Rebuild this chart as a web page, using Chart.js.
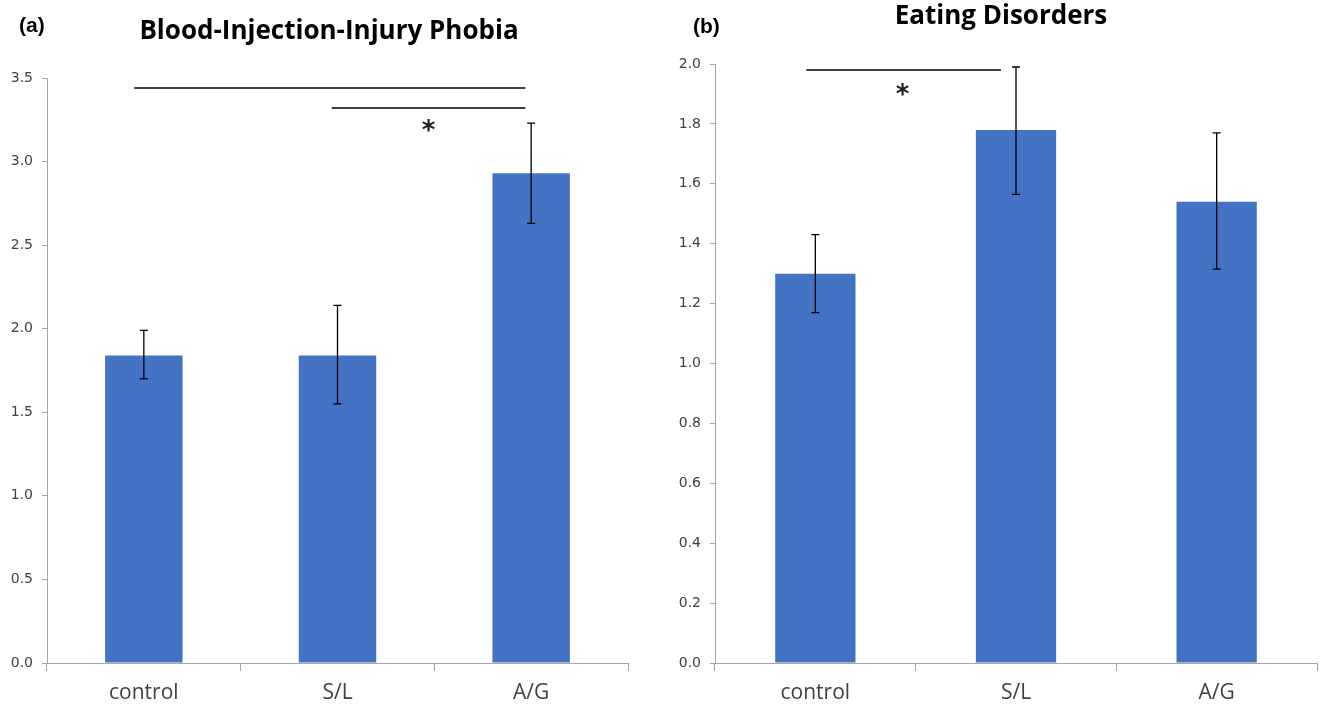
<!DOCTYPE html>
<html>
<head>
<meta charset="utf-8">
<script src="https://cdn.jsdelivr.net/npm/chart.js@4.4.1/dist/chart.umd.min.js"></script>
<style>
  html, body { margin: 0; padding: 0; background: #fff; }
  body { width: 1323px; height: 706px; position: relative; overflow: hidden; }
  .panel { position: absolute; top: 0; height: 706px; }
  .title { position: absolute; font-family: "Open Sans", Lato, sans-serif; font-weight: bold; color: #000; white-space: nowrap; transform: translateX(-50%); font-size: 26px; line-height: 26px; }
  .tag { position: absolute; font-family: "Liberation Sans", Arial, sans-serif; font-weight: bold; color: #000; font-size: 21px; line-height: 21px; }
</style>
</head>
<body>
<div class="panel" style="left:0;width:660px;"><canvas id="c1" width="660" height="706"></canvas></div>
<div class="panel" style="left:660px;width:663px;"><canvas id="c2" width="663" height="706"></canvas></div>
<div class="tag" style="left:19px;top:14px;">(a)</div>
<div class="tag" style="left:693px;top:15px;">(b)</div>
<div class="title" style="left:329px;top:16px;">Blood-Injection-Injury Phobia</div>
<div class="title" style="left:1001px;top:1px;">Eating Disorders</div>
<script>
// ---- data ----
const categories = ['control', 'S/L', 'A/G'];

const bipMeans    = [1.84, 1.84, 2.93];
const bipErrLow   = [1.70, 1.55, 2.63];
const bipErrHigh  = [1.99, 2.14, 3.23];
const bipTicks    = ['0.0', '0.5', '1.0', '1.5', '2.0', '2.5', '3.0', '3.5'];
// significance brackets: [fromCategory, toCategory, value]
const bipBrackets = [[-0.05, 1.97, 3.44], [0.97, 1.97, 3.32]];
const bipStars    = [[1.47, 3.22]];

const edMeans     = [1.30, 1.78, 1.54];
const edErrLow    = [1.17, 1.565, 1.315];
const edErrHigh   = [1.43, 1.99, 1.77];
const edTicks     = ['0.0', '0.2', '0.4', '0.6', '0.8', '1.0', '1.2', '1.4', '1.6', '1.8', '2.0'];
const edBrackets  = [[-0.045, 0.925, 1.98]];
const edStars     = [[0.435, 1.915]];

const BAR = '#4472C4';
const AXIS = '#a6a6a6';
const TEXT = '#404040';

function catPx(xs, v) {
  const p0 = xs.getPixelForValue(0), p1 = xs.getPixelForValue(1);
  return p0 + v * (p1 - p0);
}

const extrasPlugin = {
  id: 'extras',
  afterDatasetsDraw(chart, args, opts) {
    const ctx = chart.ctx, xs = chart.scales.x, ys = chart.scales.y;
    ctx.save();
    ctx.strokeStyle = '#000';
    ctx.lineWidth = 1.3;
    // error bars
    opts.low.forEach((lo, i) => {
      const x = xs.getPixelForValue(i);
      const yl = ys.getPixelForValue(lo), yh = ys.getPixelForValue(opts.high[i]);
      ctx.beginPath();
      ctx.moveTo(x, yl); ctx.lineTo(x, yh);
      ctx.moveTo(x - 4, yl); ctx.lineTo(x + 4, yl);
      ctx.moveTo(x - 4, yh); ctx.lineTo(x + 4, yh);
      ctx.stroke();
    });
    // brackets
    ctx.lineWidth = 1.5;
    opts.brackets.forEach(b => {
      const y = ys.getPixelForValue(b[2]);
      ctx.beginPath();
      ctx.moveTo(catPx(xs, b[0]), y); ctx.lineTo(catPx(xs, b[1]), y);
      ctx.stroke();
    });
    // stars
    ctx.fillStyle = '#222';
    ctx.font = 'bold 26px "DejaVu Sans", sans-serif';
    ctx.textAlign = 'center';
    ctx.textBaseline = 'alphabetic';
    opts.stars.forEach(s => {
      ctx.fillText('*', catPx(xs, s[0]), ys.getPixelForValue(s[1]) + 14);
    });
    ctx.restore();
  }
};

function makeChart(id, means, low, high, ticks, step, brackets, stars, yWidth, pad) {
  const yMax = parseFloat(ticks[ticks.length - 1]);
  return new Chart(document.getElementById(id), {
    type: 'bar',
    data: {
      labels: categories,
      datasets: [{ data: means, backgroundColor: BAR, borderWidth: 0, barPercentage: 0.8, categoryPercentage: 0.5 }]
    },
    options: {
      responsive: false,
      animation: false,
      events: [],
      layout: { padding: pad },
      plugins: {
        legend: { display: false },
        tooltip: { enabled: false },
        extras: { low: low, high: high, brackets: brackets, stars: stars }
      },
      scales: {
        x: {
          grid: { display: true, drawOnChartArea: false, drawTicks: true, tickLength: 8, color: AXIS, offset: true },
          border: { display: true, color: AXIS, width: 1 },
          ticks: { color: TEXT, font: { family: '"Open Sans", Lato, sans-serif', size: 21 }, padding: 9, maxRotation: 0 },
          afterFit(s) { s.height = 43; }
        },
        y: {
          min: 0, max: yMax,
          grid: { display: true, drawOnChartArea: false, drawTicks: true, tickLength: 5, color: AXIS },
          border: { display: true, color: AXIS, width: 1 },
          ticks: {
            stepSize: step,
            color: TEXT,
            padding: 9,
            font: { family: '"DejaVu Sans", Verdana, sans-serif', size: 14 },
            callback: (v, i) => ticks[i]
          },
          afterFit(s) { s.width = yWidth; }
        }
      }
    },
    plugins: [extrasPlugin]
  });
}

makeChart('c1', bipMeans, bipErrLow, bipErrHigh, bipTicks, 0.5, bipBrackets, bipStars, 47, { top: 78, right: 32, left: 0, bottom: 0 });
makeChart('c2', edMeans, edErrLow, edErrHigh, edTicks, 0.2, edBrackets, edStars, 55, { top: 64, right: 6, left: 0, bottom: 0 });
</script>
</body>
</html>
